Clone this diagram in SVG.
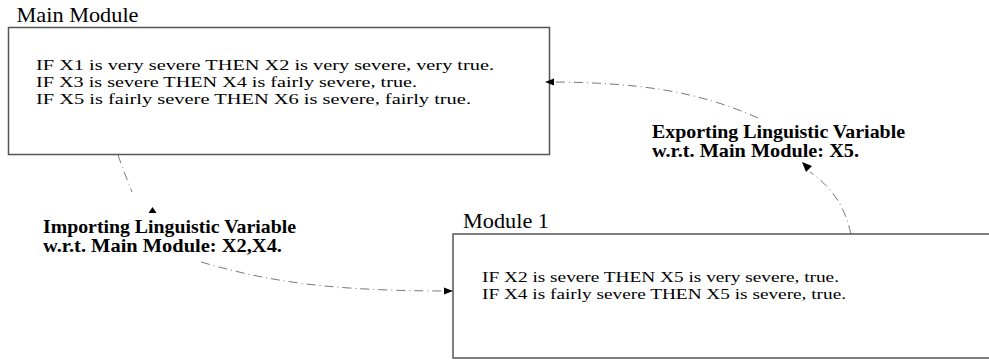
<svg xmlns="http://www.w3.org/2000/svg" width="989" height="360" viewBox="0 0 989 360">
  <style>
    .box { fill: #ffffff; stroke: #555555; stroke-width: 1.5; }
    .title { font-family: "Liberation Serif", serif; font-size: 22px; fill: #000000; }
    .rule { font-family: "Liberation Serif", serif; font-size: 15.5px; fill: #000000; }
    .label { font-family: "Liberation Serif", serif; font-size: 19px; font-weight: bold; fill: #000000; }
    .link { fill: none; stroke: #555555; stroke-width: 0.8; stroke-dasharray: 9 4 1 4; }
    .head { fill: #000000; stroke: none; }
  </style>
  <defs>
    <marker id="arrow" viewBox="0 0 10 10" refX="9" refY="5" markerWidth="9" markerHeight="9" markerUnits="userSpaceOnUse" orient="auto">
      <path d="M0,1 L10,5 L0,9 Z" class="head"/>
    </marker>
  </defs>

  <!-- Main module: rule base -->
  <g id="main-module">
    <text class="title" x="16.5" y="22" textLength="122" lengthAdjust="spacingAndGlyphs">Main Module</text>
    <rect class="box" x="8.5" y="27.5" width="541" height="127"/>
    <text class="rule" x="36" y="70" textLength="458" lengthAdjust="spacingAndGlyphs">IF X1 is very severe THEN X2 is very severe, very true.</text>
    <text class="rule" x="36" y="87" textLength="381" lengthAdjust="spacingAndGlyphs">IF X3 is severe THEN X4 is fairly severe, true.</text>
    <text class="rule" x="36" y="104" textLength="435" lengthAdjust="spacingAndGlyphs">IF X5 is fairly severe THEN X6 is severe, fairly true.</text>
  </g>

  <!-- Module 1: rule base -->
  <g id="module-1">
    <text class="title" x="463" y="228" textLength="86" lengthAdjust="spacingAndGlyphs">Module 1</text>
    <rect class="box" x="453" y="234" width="545" height="124"/>
    <text class="rule" x="482" y="282" textLength="357" lengthAdjust="spacingAndGlyphs">IF X2 is severe THEN X5 is very severe, true.</text>
    <text class="rule" x="482" y="299" textLength="364" lengthAdjust="spacingAndGlyphs">IF X4 is fairly severe THEN X5 is severe, true.</text>
  </g>

  <!-- Connector labels -->
  <g id="label-import">
    <text class="label" x="43" y="233" textLength="253" lengthAdjust="spacingAndGlyphs">Importing Linguistic Variable</text>
    <text class="label" x="43" y="252" textLength="239" lengthAdjust="spacingAndGlyphs">w.r.t. Main Module: X2,X4.</text>
  </g>
  <g id="label-export">
    <text class="label" x="652" y="137.5" textLength="253" lengthAdjust="spacingAndGlyphs">Exporting Linguistic Variable</text>
    <text class="label" x="652" y="157" textLength="207" lengthAdjust="spacingAndGlyphs">w.r.t. Main Module: X5.</text>
  </g>

  <!-- Connectors -->
  <g id="connectors">
    <!-- import: main module down through its label into module 1 -->
    <path class="link" d="M118,155 Q124,172 132,192"/>
    <polygon class="head" points="152.5,207 148.5,213 156.5,213"/>
    <path class="link" d="M201,262 C270,282 330,291 452,291" marker-end="url(#arrow)"/>
    <!-- export: module 1 up through its label into main module -->
    <path class="link" d="M851,234 C846,212 836,190 810,172"/>
    <polygon class="head" points="802,162 812,166 806,172"/>
    <path class="link" d="M758,118 C700,92 640,82 546,82" marker-end="url(#arrow)"/>
  </g>
</svg>
